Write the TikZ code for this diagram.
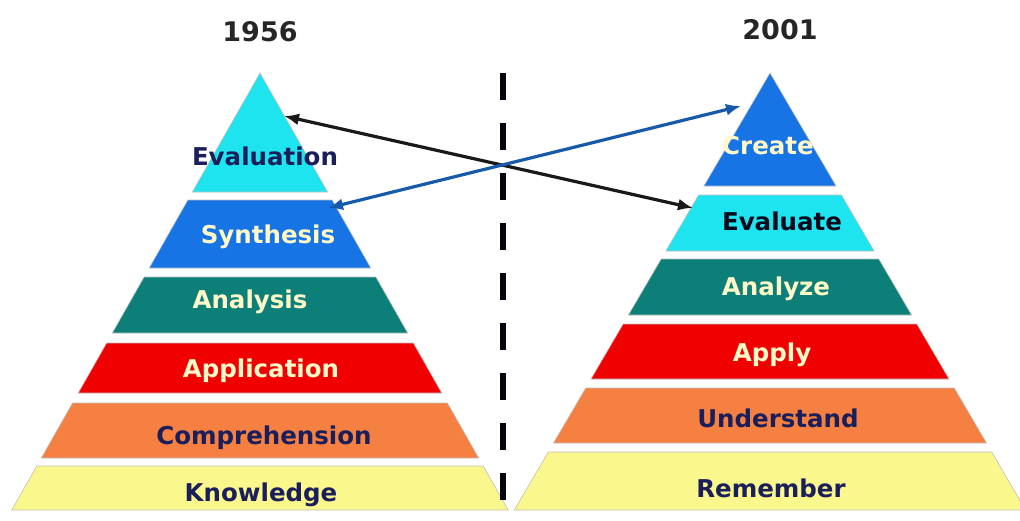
\documentclass[tikz,border=0pt]{standalone}
\usepackage{fontspec}
\setmainfont{DejaVu Sans}
\usetikzlibrary{arrows.meta}

\definecolor{bcyan}{RGB}{30,228,240}
\definecolor{bblue}{RGB}{22,116,228}
\definecolor{bteal}{RGB}{12,128,120}
\definecolor{bred}{RGB}{240,0,0}
\definecolor{borange}{RGB}{245,128,66}
\definecolor{byellow}{RGB}{250,248,140}
\definecolor{navy}{RGB}{26,30,90}
\definecolor{cream}{RGB}{255,248,200}
\definecolor{arrblue}{RGB}{24,90,170}

\begin{document}
\begin{tikzpicture}[x=1pt,y=-1pt,
  lbl/.style={font=\fontsize{24.5}{28}\selectfont\bfseries, text height=18pt, text depth=5pt, inner sep=0pt, yshift=-2pt},
  yr/.style={font=\fontsize{27}{30}\selectfont\bfseries, text=black!85},
  link/.style={<->, >={Latex[length=15pt,width=12pt]}, line width=3.2pt}]
\useasboundingbox (0,0) rectangle (1020,520);

% 1956 pyramid
\foreach \t/\b/\c in {73/192/bcyan, 200/268/bblue, 277/333/bteal, 343/393/bred, 403/458/borange, 466/510/byellow}
  \filldraw[fill=\c, draw=black!25, line width=0.6pt]
    ({260-0.568*(\t-73)},\t) -- ({260+0.568*(\t-73)},\t) -- ({260+0.568*(\b-73)},\b) -- ({260-0.568*(\b-73)},\b) -- cycle;
% 2001 pyramid
\foreach \t/\b/\c in {73/186/bblue, 195/251/bcyan, 259/315/bteal, 324/379/bred, 388/443/borange, 452/510/byellow}
  \filldraw[fill=\c, draw=black!25, line width=0.6pt]
    ({770-0.585*(\t-73)},\t) -- ({770+0.585*(\t-73)},\t) -- ({770+0.585*(\b-73)},\b) -- ({770-0.585*(\b-73)},\b) -- cycle;

\node[yr] (y1) at (260,32) {1956};
\node[yr] (y2) at (780,30) {2001};

\node[lbl, text=navy] (eval) at (265,157) {Evaluation};
\node[lbl, text=cream] (syn) at (268,235) {Synthesis};
\node[lbl, text=cream] (ana) at (250,300) {Analysis};
\node[lbl, text=cream] (appl) at (261,369) {Application};
\node[lbl, text=navy] (comp) at (264,436) {Comprehension};
\node[lbl, text=navy] (know) at (261,493) {Knowledge};

\node[lbl, text=cream] (cre) at (768,146) {Create};
\node[lbl, text=black!70!navy] (evl) at (782,222) {Evaluate};
\node[lbl, text=cream] (anz) at (776,287) {Analyze};
\node[lbl, text=cream] (apy) at (772,353) {Apply};
\node[lbl, text=navy] (und) at (778,419) {Understand};
\node[lbl, text=navy] (rem) at (771,489) {Remember};

% divider
\coordinate (dtop) at (503,73);
\coordinate (dbot) at (503,512);
\draw[line width=6pt, black!85!navy, dash pattern=on 27pt off 23pt] (dtop) -- (dbot);

% arrow ends
\coordinate (e1) at (284,116);
\coordinate (e2) at (693,208);
\coordinate (s1) at (328,208);
\coordinate (s2) at (741,106);
\draw[link, black!90] (e1) -- (e2);
\draw[link, arrblue] (s1) -- (s2);
\end{tikzpicture}
\end{document}
